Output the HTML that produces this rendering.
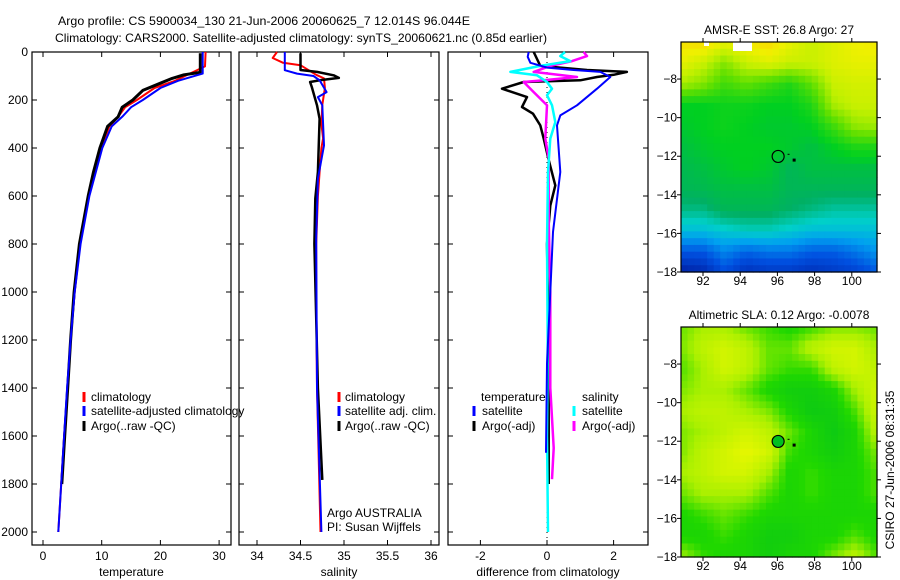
<!DOCTYPE html>
<html><head><meta charset="utf-8">
<style>
html,body{margin:0;padding:0;background:#fff;}
svg{display:block;font-family:"Liberation Sans",sans-serif;}
text{font-size:12px;fill:#000;}
</style></head>
<body>
<svg id="fig" width="900" height="580" viewBox="0 0 900 580" xmlns="http://www.w3.org/2000/svg">
<text x="58" y="25" font-size="13" textLength="412" lengthAdjust="spacingAndGlyphs">Argo profile: CS 5900034_130 21-Jun-2006 20060625_7 12.014S 96.044E</text>
<text x="55" y="42" font-size="13" textLength="492" lengthAdjust="spacingAndGlyphs">Climatology: CARS2000. Satellite-adjusted climatology: synTS_20060621.nc (0.85d earlier)</text>
<g id="layer"></g>
</svg>
<script>
// ---------- data ----------
const depthTicks=[0,200,400,600,800,1000,1200,1400,1600,1800,2000];
const tempTicks=[0,10,20,30];
const salTicks=[34,34.5,35,35.5,36];
const diffTicks=[-2,0,2];
const lonTicks=[92,94,96,98,100];
const latTicks=[-8,-10,-12,-14,-16,-18];

const tClimD=[0,60,90,120,150,200,230,270,310,400,600,800,1000,1200,1400,1600,1800,2000];
const tClimV=[27.7,27.6,25,22.5,19,16,14,12.8,11.3,9.9,7.8,6.3,5.4,4.7,4.2,3.6,3.1,2.6];
const tSatD=[0,90,120,150,200,230,270,310,400,600,800,1000,1200,1400,1600,1800,2000];
const tSatV=[27.2,27.2,23,20,17,15,13.5,11.7,10.1,7.9,6.4,5.4,4.7,4.1,3.6,3.1,2.6];
const tArgoD=[5,85,95,110,130,160,200,230,270,310,400,500,600,800,1000,1200,1400,1600,1800];
const tArgoV=[26.8,26.8,24,22,20,17,15.3,13.5,12.8,11,9.7,8.6,7.7,6.2,5.3,4.7,4.2,3.7,3.2];

const sClimD=[0,25,45,55,95,110,150,220,300,360,400,500,600,800,1000,1400,2000];
const sClimV=[34.23,34.18,34.3,34.5,34.68,34.77,34.78,34.75,34.74,34.76,34.74,34.72,34.7,34.68,34.68,34.69,34.73];
const sSatD=[0,76,90,100,118,167,188,222,389,528,778,1400,2000];
const sSatV=[34.32,34.32,34.46,34.65,34.72,34.8,34.7,34.75,34.77,34.7,34.68,34.69,34.74];
const sArgoD=[5,75,83,97,108,118,125,146,222,278,500,611,800,1400,1783];
const sArgoV=[34.5,34.5,34.69,34.88,34.94,34.72,34.61,34.63,34.69,34.72,34.7,34.67,34.66,34.7,34.75];

const dTSatD=[0,20,45,65,75,83,104,153,222,264,306,500,750,1000,1300,1670];
const dTSatV=[-0.55,-0.58,-0.5,0,0.8,1.6,1.9,1.5,0.9,0.4,0.3,0.4,0.18,0.1,0,-0.03];
const dTArgoD=[0,58,75,83,95,104,118,125,153,188,229,257,306,361,450,556,640,800,1200,1800];
const dTArgoV=[-0.4,-0.2,1.2,2.4,2.0,1.5,1.0,-0.7,-1.35,-0.6,-0.75,-0.42,-0.2,-0.1,0.05,0.25,0.1,0,0.05,0.05];
const dSSatD=[0,17,38,58,83,97,125,153,180,222,292,361,500,800,1200,1600,2000];
const dSSatV=[0.54,0.4,0.7,-0.2,-1.1,-0.3,0,0.15,0,0.15,0.25,0.1,0.03,0,0.02,0,0.03];
const dSArgoD=[0,17,38,58,83,104,118,125,167,222,361,444,700,1000,1400,1650,1780];
const dSArgoV=[1.1,1.2,0.75,0.1,-0.4,0.9,-0.1,-0.7,-0.4,0,-0.05,0.05,0.05,0.1,0.1,0.2,0.15];

const sstGrid=[
[0.92,0.94,0.86,0.9,0.94,0.86,0.8,0.84,0.88,0.9],
[0.86,0.8,0.7,0.8,0.84,0.8,0.8,0.84,0.86,0.86],
[0.75,0.7,0.6,0.65,0.6,0.55,0.65,0.8,0.82,0.82],
[0.5,0.5,0.52,0.52,0.5,0.5,0.55,0.75,0.8,0.8],
[0.48,0.5,0.52,0.5,0.48,0.48,0.5,0.6,0.72,0.74],
[0.45,0.48,0.5,0.5,0.5,0.48,0.45,0.5,0.55,0.55],
[0.43,0.45,0.48,0.5,0.48,0.42,0.45,0.45,0.45,0.45],
[0.42,0.43,0.45,0.45,0.45,0.42,0.42,0.42,0.42,0.42],
[0.38,0.38,0.42,0.42,0.42,0.4,0.38,0.36,0.36,0.36],
[0.3,0.3,0.32,0.34,0.34,0.32,0.3,0.3,0.3,0.3],
[0.16,0.16,0.22,0.18,0.2,0.2,0.17,0.17,0.2,0.24],
[0.04,0.06,0.14,0.08,0.1,0.1,0.08,0.1,0.12,0.16]];
const slaGrid=[
[0.5,0.65,0.65,0.5,0.4,0.3,0.4,0.55,0.55,0.5],
[0.55,0.75,0.85,0.75,0.5,0.5,0.75,0.85,0.85,0.65],
[0.45,0.65,0.85,0.75,0.5,0.4,0.4,0.75,0.85,0.75],
[0.55,0.65,0.65,0.5,0.3,0.2,0.2,0.3,0.65,0.85],
[0.65,0.75,0.75,0.65,0.55,0.3,0.15,0.2,0.45,0.85],
[0.55,0.65,0.75,0.85,0.75,0.5,0.3,0.15,0.3,0.75],
[0.55,0.75,0.85,0.95,0.85,0.4,0.3,0.2,0.3,0.55],
[0.65,0.75,0.85,0.85,0.65,0.3,0.4,0.3,0.3,0.45],
[0.5,0.65,0.65,0.65,0.45,0.3,0.4,0.3,0.3,0.45],
[0.3,0.4,0.5,0.4,0.3,0.3,0.3,0.3,0.3,0.3],
[0.3,0.3,0.4,0.3,0.2,0.2,0.3,0.3,0.45,0.3],
[0.65,0.4,0.3,0.3,0.2,0.3,0.3,0.55,0.75,0.45]];

// ---------- helpers ----------
const NS="http://www.w3.org/2000/svg";
const layer=document.getElementById('layer');
function mk(tag,attrs,parent){const e=document.createElementNS(NS,tag);for(const k in attrs)e.setAttribute(k,attrs[k]);(parent||layer).appendChild(e);return e;}
function txt(s,x,y,anchor,parent){const t=mk('text',{x:x,y:y,'text-anchor':anchor||'start'},parent);t.textContent=s;return t;}

const TOP=52,BOT=545;
const yD=d=>TOP+d*0.24;
const panels=[
 {name:'temperature',L:32,R:231,x:v=>43+v*5.87,ticks:tempTicks,label:'temperature'},
 {name:'salinity',L:239,R:439,x:v=>257+(v-34)*87,ticks:salTicks,label:'salinity'},
 {name:'difference',L:448,R:648,x:v=>547+v*33.3,ticks:diffTicks,label:'difference from climatology'}];

panels.forEach((p,i)=>{
  const g=mk('g',{});
  
  
  const fr=mk('rect',{x:p.L,y:TOP,width:p.R-p.L,height:BOT-TOP,fill:'none',stroke:'#000','stroke-width':1.2},g);
  
  
  p.ticks.forEach(v=>{
    const X=p.x(v);
    mk('line',{x1:X,x2:X,y1:BOT,y2:BOT-5,stroke:'#000'},g);
    mk('line',{x1:X,x2:X,y1:TOP,y2:TOP+5,stroke:'#000'},g);
    const t=txt(String(v),X,560,'middle',g);
    
    
  });
  depthTicks.forEach(d=>{
    const Y=yD(d);
    mk('line',{x1:p.L,x2:p.L+5,y1:Y,y2:Y,stroke:'#000'},g);
    mk('line',{x1:p.R,x2:p.R-5,y1:Y,y2:Y,stroke:'#000'},g);
    if(i===0){const t=txt(String(d),28,Y+4,'end',g);
      
      }
  });
  const al=txt(p.label,(p.L+p.R)/2,576,'middle',g);
  
  
  p.g=g;
});

function series(p,D,V,color,w,name,dash){
  const pts=D.map((d,k)=>p.x(V[k]).toFixed(1)+','+yD(d).toFixed(1)).join(' ');
  const a={points:pts,fill:'none',stroke:color,'stroke-width':w,'stroke-linejoin':'round'};
  if(dash)a['stroke-dasharray']=dash;
  const e=mk('polyline',a,p.g);
  
  
}
const [P1,P2,P3]=panels;
series(P1,tClimD,tClimV,'#f00',2,'temp-climatology-line');
series(P1,tArgoD,tArgoV,'#000',3,'temp-argo-line');
series(P1,tSatD,tSatV,'#00f',2,'temp-satellite-line');
series(P2,sClimD,sClimV,'#f00',2,'sal-climatology-line');
series(P2,sArgoD,sArgoV,'#000',2.5,'sal-argo-line');
series(P2,sSatD,sSatV,'#00f',2,'sal-satellite-line');
const zl=mk('line',{x1:P3.x(0),x2:P3.x(0),y1:TOP,y2:BOT,stroke:'#000','stroke-dasharray':'1,4'},P3.g);


series(P3,dTArgoD,dTArgoV,'#000',2.5,'diff-temp-argo-line');
series(P3,dSArgoD,dSArgoV,'#f0f',2.5,'diff-sal-argo-line');
series(P3,dSSatD,dSSatV,'#0ff',2.5,'diff-sal-satellite-line');
series(P3,dTSatD,dTSatV,'#00f',2,'diff-temp-satellite-line');

function legend(entries,parent){
  entries.forEach(e=>{
    if(e.c){const m=mk('line',{x1:e.mx,x2:e.mx,y1:e.y-9,y2:e.y+1,stroke:e.c,'stroke-width':3},parent);
      
      }
    const t=txt(e.t,e.x,e.y,'start',parent);
    
    
  });
}
legend([{t:'climatology',x:91,mx:84,y:401,c:'#f00'},{t:'satellite-adjusted climatology',x:91,mx:84,y:415,c:'#00f'},{t:'Argo(..raw -QC)',x:91,mx:84,y:430,c:'#000'}],P1.g);
legend([{t:'climatology',x:345,mx:339,y:401,c:'#f00'},{t:'satellite adj. clim.',x:345,mx:339,y:415,c:'#00f'},{t:'Argo(..raw -QC)',x:345,mx:339,y:430,c:'#000'},
 {t:'Argo AUSTRALIA',x:327,y:517},{t:'PI: Susan Wijffels',x:327,y:531}],P2.g);
legend([{t:'temperature',x:481,y:401},{t:'satellite',x:482,mx:474,y:415,c:'#00f'},{t:'Argo(-adj)',x:482,mx:474,y:430,c:'#000'},
 {t:'salinity',x:582,y:401},{t:'satellite',x:582,mx:574,y:415,c:'#0ff'},{t:'Argo(-adj)',x:582,mx:574,y:430,c:'#f0f'}],P3.g);

// ---------- maps ----------
function lerpC(stops,v){
  v=Math.max(0,Math.min(1,v));
  for(let i=1;i<stops.length;i++){if(v<=stops[i][0]){const a=stops[i-1],b=stops[i];const t=(v-a[0])/(b[0]-a[0]);
    return 'rgb('+[1,2,3].map(k=>Math.round(a[k]+(b[k]-a[k])*t)).join(',')+')';}}
  const l=stops[stops.length-1];return 'rgb('+l[1]+','+l[2]+','+l[3]+')';
}
const sstStops=[[0,0,16,144],[0.15,0,80,224],[0.25,0,160,240],[0.33,0,208,200],[0.4,0,176,100],[0.5,0,208,32],[0.65,96,224,0],[0.78,192,240,0],[0.88,240,240,0],[1,255,192,0]];
const slaStops=[[0,0,192,32],[0.35,32,216,0],[0.65,170,240,0],[1,240,248,0]];
function sample(G,u,v){
  const cx=u*(G[0].length-1),cy=v*(G.length-1);
  const x0=Math.floor(cx),y0=Math.floor(cy),x1=Math.min(x0+1,G[0].length-1),y1=Math.min(y0+1,G.length-1);
  const fx=cx-x0,fy=cy-y0;
  return G[y0][x0]*(1-fx)*(1-fy)+G[y0][x1]*fx*(1-fy)+G[y1][x0]*(1-fx)*fy+G[y1][x1]*fx*fy;
}
function drawMap(name,top,bot,grid,stops,title,filledCircle){
  const L=681,R=877;
  const lonX=lon=>703+(lon-92)*18.6;
  const sc=(bot-top)/11.92;
  const latY=lat=>bot-(lat+18)*sc;
  const g=mk('g',{});
  
  
  const nx=30,ny=34,cw=(R-L)/nx,ch=(bot-top)/ny;
  for(let j=0;j<ny;j++)for(let i=0;i<nx;i++){
    mk('rect',{x:(L+i*cw).toFixed(2),y:(top+j*ch).toFixed(2),width:(cw+0.6).toFixed(2),height:(ch+0.6).toFixed(2),fill:lerpC(stops,sample(grid,(i+0.5)/nx,(j+0.5)/ny))},g);
  }
  if(!filledCircle){
    mk('rect',{x:733,y:top,width:19,height:9,fill:'#fff'},g);
    mk('rect',{x:704,y:top,width:5,height:4,fill:'#fff'},g);
  }
  const c=mk('circle',{cx:lonX(96.04),cy:latY(-12.01),r:6,fill:filledCircle?'#00c020':'none',stroke:'#000','stroke-width':1.2},g);
  
  
  mk('rect',{x:lonX(96.9)-1.5,y:latY(-12.2)-1.5,width:3,height:3,fill:'#000'},g);
  mk('rect',{x:lonX(96.6)-1,y:latY(-11.9)-0.5,width:2,height:1,fill:'#000'},g);
  mk('rect',{x:L,y:top,width:R-L,height:bot-top,fill:'none',stroke:'#000','stroke-width':1.2},g);
  lonTicks.forEach(v=>{const X=lonX(v);
    mk('line',{x1:X,x2:X,y1:bot,y2:bot+4,stroke:'#000'},g);mk('line',{x1:X,x2:X,y1:top,y2:top-4,stroke:'#000'},g);
    const t=txt(String(v),X,bot+13,'middle',g);
    
    });
  latTicks.forEach(v=>{const Y=latY(v);
    mk('line',{x1:L,x2:L-4,y1:Y,y2:Y,stroke:'#000'},g);mk('line',{x1:R,x2:R+4,y1:Y,y2:Y,stroke:'#000'},g);
    const t=txt(String(v).replace('-','\u2212'),L-4,Y+4,'end',g);
    
    });
  const tt=txt(title,(L+R)/2,top-8,'middle',g);
  
  
}
drawMap('sst',42,272,sstGrid,sstStops,'AMSR-E SST: 26.8 Argo: 27',false);
drawMap('sla',327,557,slaGrid,slaStops,'Altimetric SLA: 0.12 Argo: -0.0078',true);
const cs=txt('CSIRO 27-Jun-2006 08:31:35',0,0,'middle');
cs.setAttribute('transform','translate(894,470) rotate(-90)');


</script>
</body></html>
